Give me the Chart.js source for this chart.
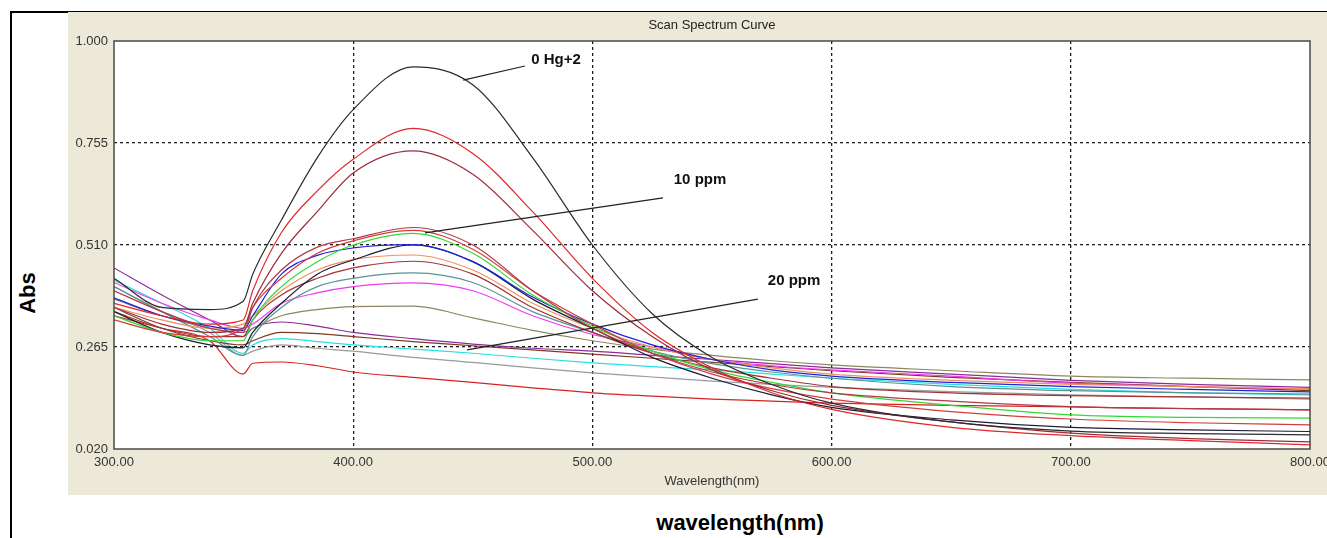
<!DOCTYPE html>
<html>
<head>
<meta charset="utf-8">
<script src="https://cdn.jsdelivr.net/npm/chart.js@4.4.1/dist/chart.umd.min.js"></script>
<style>
  html, body { margin:0; padding:0; background:#fff; width:1327px; height:538px; overflow:hidden; }
  #frame { position:absolute; left:10px; top:11px; width:1400px; height:600px; border-left:2px solid #000; border-top:2px solid #000; }
  #wrap { position:absolute; left:68px; top:12px; width:1259px; height:483px; }
  #abs { position:absolute; left:28px; top:293px; transform:translate(-50%,-50%) rotate(-90deg); font:bold 22px "Liberation Sans", Arial, sans-serif; color:#000; white-space:nowrap; }
  #wl { position:absolute; left:740px; top:523px; transform:translate(-50%,-50%); font:bold 22px "Liberation Sans", Arial, sans-serif; color:#000; white-space:nowrap; }
</style>
</head>
<body>
<div id="frame"></div>
<div id="wrap"><canvas id="chart-scan" width="1259" height="483"></canvas></div>
<div id="abs">Abs</div>
<div id="wl">wavelength(nm)</div>
<script>
'use strict';

const wavelengths = [300,320,340,354,358,370,385,400,425,450,475,500,525,550,575,600,650,700,750,800];

// absorbance per curve
const abs0Hg     = [0.43,0.36,0.355,0.375,0.44,0.57,0.72,0.835,0.938,0.895,0.72,0.51,0.345,0.24,0.175,0.13,0.085,0.063,0.057,0.054];
const absRed     = [0.37,0.34,0.32,0.33,0.40,0.54,0.64,0.716,0.79,0.73,0.59,0.43,0.30,0.215,0.155,0.115,0.072,0.052,0.04,0.03];
const absDkRed   = [0.36,0.32,0.30,0.31,0.37,0.49,0.59,0.683,0.736,0.68,0.545,0.40,0.29,0.21,0.16,0.125,0.085,0.058,0.045,0.037];
const absBrRed   = [0.40,0.35,0.31,0.30,0.36,0.45,0.505,0.525,0.552,0.51,0.40,0.31,0.25,0.205,0.175,0.155,0.135,0.122,0.117,0.114];
const absRed2    = [0.33,0.30,0.29,0.31,0.36,0.43,0.49,0.52,0.545,0.50,0.40,0.32,0.25,0.20,0.165,0.14,0.11,0.092,0.083,0.078];
const absGreen   = [0.34,0.30,0.28,0.28,0.33,0.41,0.47,0.51,0.538,0.49,0.39,0.315,0.255,0.21,0.18,0.155,0.125,0.102,0.096,0.094];
const absBlue    = [0.383,0.34,0.315,0.305,0.34,0.44,0.485,0.503,0.511,0.47,0.385,0.32,0.27,0.235,0.21,0.195,0.18,0.17,0.163,0.157];
const absNavy    = [0.35,0.30,0.27,0.263,0.30,0.37,0.44,0.474,0.51,0.47,0.38,0.31,0.24,0.19,0.15,0.12,0.09,0.072,0.066,0.062];
const absOrange  = [0.36,0.33,0.31,0.32,0.34,0.40,0.45,0.475,0.486,0.45,0.37,0.31,0.265,0.235,0.215,0.20,0.185,0.175,0.17,0.165];
const absDkRed2  = [0.35,0.31,0.29,0.29,0.33,0.39,0.43,0.455,0.471,0.44,0.36,0.30,0.25,0.215,0.19,0.17,0.155,0.148,0.145,0.142];
const absTeal    = [0.41,0.35,0.29,0.245,0.29,0.36,0.41,0.43,0.443,0.42,0.35,0.30,0.255,0.225,0.205,0.19,0.17,0.16,0.155,0.152];
const absMagenta = [0.42,0.37,0.33,0.31,0.32,0.37,0.395,0.41,0.419,0.40,0.34,0.295,0.265,0.235,0.22,0.21,0.195,0.178,0.17,0.164];
const absOlive   = [0.38,0.34,0.31,0.30,0.31,0.34,0.355,0.362,0.363,0.335,0.305,0.28,0.26,0.245,0.232,0.222,0.208,0.195,0.19,0.186];
const absPurple  = [0.455,0.39,0.33,0.29,0.31,0.325,0.315,0.30,0.285,0.272,0.262,0.255,0.245,0.235,0.225,0.215,0.20,0.185,0.175,0.168];
const absBrown   = [0.36,0.31,0.28,0.27,0.28,0.30,0.297,0.29,0.278,0.268,0.258,0.248,0.238,0.228,0.218,0.208,0.192,0.18,0.17,0.16];
const absCyan    = [0.426,0.37,0.31,0.25,0.27,0.285,0.278,0.27,0.26,0.25,0.238,0.227,0.218,0.21,0.20,0.19,0.175,0.163,0.155,0.15];
const absGray    = [0.41,0.35,0.30,0.245,0.255,0.27,0.262,0.255,0.24,0.228,0.215,0.203,0.193,0.183,0.175,0.168,0.158,0.15,0.145,0.14];
const absRedLow  = [0.34,0.31,0.28,0.20,0.226,0.229,0.22,0.205,0.192,0.18,0.167,0.155,0.147,0.14,0.135,0.13,0.125,0.121,0.117,0.114];

const xTicks = [300,400,500,600,700,800];
const yTicks = [0.020,0.265,0.510,0.755,1.000];

// callout labels and their leader lines, in data units
const noteLabels = ['0 Hg+2','10 ppm','20 ppm'];
const noteText   = [[484.8,0.954],[545.0,0.666],[584.3,0.423]];
const noteFrom   = [[446.0,0.906],[430.0,0.539],[447.6,0.258]];
const noteTo     = [[471.8,0.940],[529.5,0.623],[569.2,0.380]];

const series = [
  ['0 Hg+2', abs0Hg, '#2b2b2b'],
  ['red', absRed, '#e02828'],
  ['dark red', absDkRed, '#9a2c3c'],
  ['brown red', absBrRed, '#b03a4a'],
  ['red 2', absRed2, '#d43c3c'],
  ['green', absGreen, '#30dc30'],
  ['blue', absBlue, '#2020dc'],
  ['navy', absNavy, '#1c1c38'],
  ['orange', absOrange, '#f0905c'],
  ['dark red 2', absDkRed2, '#a23434'],
  ['teal', absTeal, '#5a9494'],
  ['magenta', absMagenta, '#ee3cee'],
  ['olive', absOlive, '#8e8660'],
  ['purple', absPurple, '#8c2c9a'],
  ['brown', absBrown, '#7c3a22'],
  ['cyan', absCyan, '#24e0e0'],
  ['gray', absGray, '#9a9a9a'],
  ['red low', absRedLow, '#d82222'],
];

const FONT = '"Liberation Sans", Arial, sans-serif';

const panelPlugin = {
  id: 'panel',
  beforeDraw(chart) {
    const {ctx, chartArea: a} = chart;
    ctx.save();
    ctx.fillStyle = '#ece9d8';
    ctx.fillRect(0, 0, chart.width, chart.height);
    ctx.fillStyle = '#fff';
    ctx.fillRect(a.left, a.top, a.right-a.left, a.bottom-a.top);
    ctx.restore();
  },
  afterDraw(chart) {
    const {ctx, chartArea: a, scales: {x, y}} = chart;
    ctx.save();
    // plot frame
    ctx.strokeStyle = '#4a4a44';
    ctx.lineWidth = 1.5;
    ctx.strokeRect(a.left, a.top, a.right-a.left, a.bottom-a.top);
    // title over the plot area
    ctx.fillStyle = '#222';
    ctx.font = '13px ' + FONT;
    ctx.textAlign = 'center';
    ctx.textBaseline = 'middle';
    ctx.fillText('Scan Spectrum Curve', (a.left+a.right)/2, 13);
    // callouts
    ctx.strokeStyle = '#222';
    ctx.lineWidth = 1.2;
    ctx.font = 'bold 15px ' + FONT;
    ctx.fillStyle = '#111';
    noteLabels.forEach((t,i)=>{
      ctx.beginPath();
      ctx.moveTo(x.getPixelForValue(noteFrom[i][0]), y.getPixelForValue(noteFrom[i][1]));
      ctx.lineTo(x.getPixelForValue(noteTo[i][0]), y.getPixelForValue(noteTo[i][1]));
      ctx.stroke();
      ctx.fillText(t, x.getPixelForValue(noteText[i][0]), y.getPixelForValue(noteText[i][1]));
    });
    ctx.restore();
  }
};

const gridColor = c => (c.index === 0 || c.index === c.chart.scales[c.scale.id].ticks.length-1) ? 'rgba(0,0,0,0)' : '#1e1e1e';

new Chart(document.getElementById('chart-scan'), {
  type: 'line',
  data: {
    datasets: series.map(([label, vals, color]) => ({
      label,
      data: wavelengths.map((w,i)=>({x:w, y:vals[i]})),
      borderColor: color,
      borderWidth: 1.2,
      pointRadius: 0,
      cubicInterpolationMode: 'monotone',
      fill: false,
    }))
  },
  options: {
    responsive: false,
    animation: false,
    layout: { padding: { top: 29, right: 17, left: 0, bottom: 0 } },
    plugins: { legend: { display: false }, tooltip: { enabled: false }, title: { display: false } },
    scales: {
      x: {
        type: 'linear', min: 300, max: 800,
        afterBuildTicks: s => { s.ticks = xTicks.map(v=>({value:v})); },
        afterFit: s => { s.height = 46; s.paddingLeft = 0; s.paddingRight = 0; },
        ticks: { color:'#333', font:{family:FONT, size:13}, padding:6, maxRotation:0, autoSkip:false, callback: v => Number(v).toFixed(2) },
        grid: { color: gridColor, drawTicks:false, lineWidth:1.3 },
        border: { display:false, dash:[3,3] },
        title: { display:true, text:'Wavelength(nm)', color:'#333', font:{family:FONT, size:13}, padding:{top:0, bottom:6} }
      },
      y: {
        type: 'linear', min: 0.02, max: 1.0,
        afterBuildTicks: s => { s.ticks = yTicks.map(v=>({value:v})); },
        afterFit: s => { s.width = 46; s.paddingTop = 0; s.paddingBottom = 0; },
        ticks: { color:'#333', font:{family:FONT, size:13}, padding:6, autoSkip:false, callback: v => Number(v).toFixed(3) },
        grid: { color: gridColor, drawTicks:false, lineWidth:1.3 },
        border: { display:false, dash:[3,3] }
      }
    }
  },
  plugins: [panelPlugin]
});
</script>
</body>
</html>
